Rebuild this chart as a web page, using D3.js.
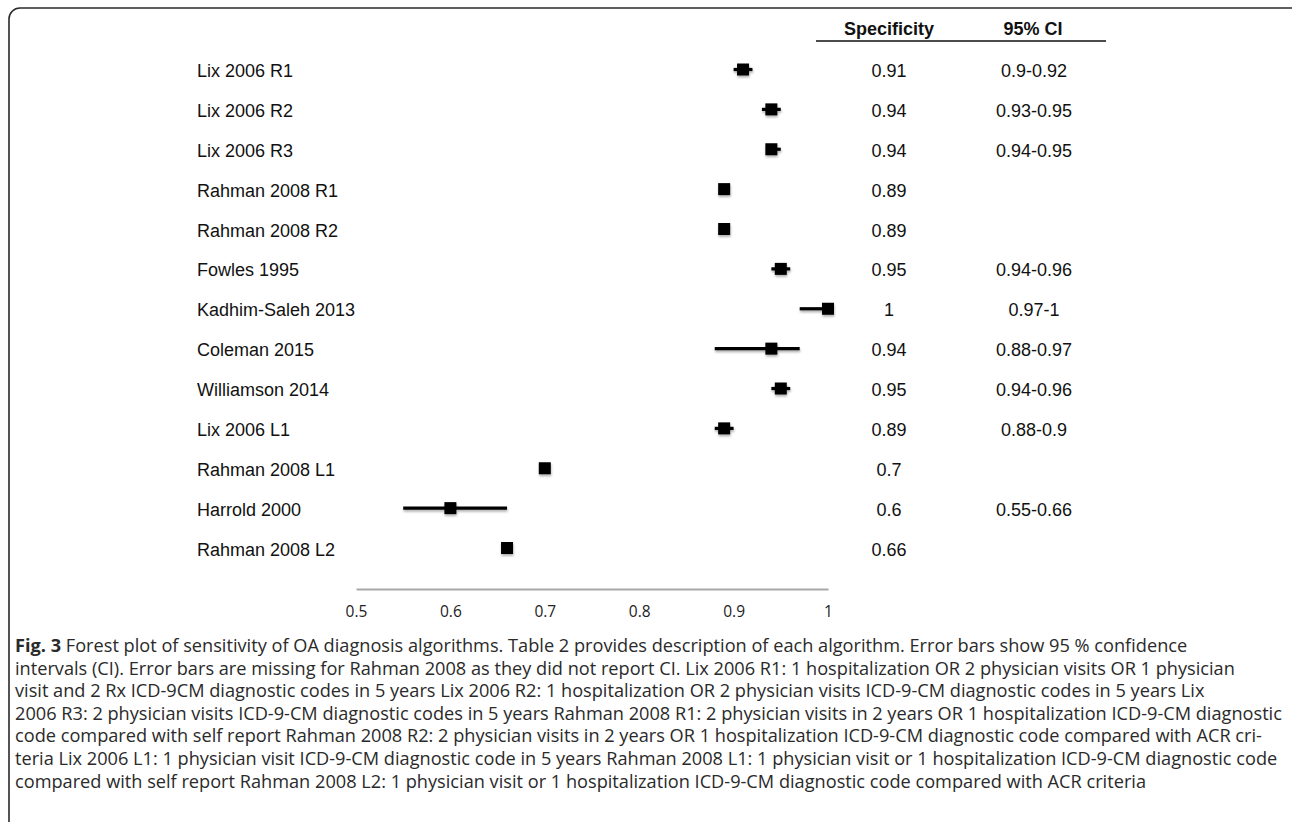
<!DOCTYPE html>
<html>
<head>
<meta charset="utf-8">
<script src="https://cdn.jsdelivr.net/npm/d3@7"></script>
<style>
  html, body { margin: 0; padding: 0; background: #fff; }
  svg { display: block; }
</style>
</head>
<body>
<svg id="chart" width="1292" height="822"></svg>
<script>
const studies = ["Lix 2006 R1","Lix 2006 R2","Lix 2006 R3","Rahman 2008 R1","Rahman 2008 R2","Fowles 1995","Kadhim-Saleh 2013","Coleman 2015","Williamson 2014","Lix 2006 L1","Rahman 2008 L1","Harrold 2000","Rahman 2008 L2"];
const specificity = [0.91,0.94,0.94,0.89,0.89,0.95,1,0.94,0.95,0.89,0.7,0.6,0.66];
const ciLow  = [0.9,0.93,0.94,null,null,0.94,0.97,0.88,0.94,0.88,null,0.55,null];
const ciHigh = [0.92,0.95,0.95,null,null,0.96,1,0.97,0.96,0.9,null,0.66,null];
const xTicks = [0.5,0.6,0.7,0.8,0.9,1];
const headers = ["Specificity","95% CI"];
const captionBold = "Fig. 3";
const captionLines = [
  " Forest plot of sensitivity of OA diagnosis algorithms. Table 2 provides description of each algorithm. Error bars show 95 % confidence",
  "intervals (CI). Error bars are missing for Rahman 2008 as they did not report CI. Lix 2006 R1: 1 hospitalization OR 2 physician visits OR 1 physician",
  "visit and 2 Rx ICD-9CM diagnostic codes in 5 years Lix 2006 R2: 1 hospitalization OR 2 physician visits ICD-9-CM diagnostic codes in 5 years Lix",
  "2006 R3: 2 physician visits ICD-9-CM diagnostic codes in 5 years Rahman 2008 R1: 2 physician visits in 2 years OR 1 hospitalization ICD-9-CM diagnostic",
  "code compared with self report Rahman 2008 R2: 2 physician visits in 2 years OR 1 hospitalization ICD-9-CM diagnostic code compared with ACR cri-",
  "teria Lix 2006 L1: 1 physician visit ICD-9-CM diagnostic code in 5 years Rahman 2008 L1: 1 physician visit or 1 hospitalization ICD-9-CM diagnostic code",
  "compared with self report Rahman 2008 L2: 1 physician visit or 1 hospitalization ICD-9-CM diagnostic code compared with ACR criteria"
];

const svg = d3.select("#chart");

// frame
svg.append("rect")
  .attr("x", 9).attr("y", 8).attr("width", 1300).attr("height", 830)
  .attr("rx", 11).attr("ry", 11)
  .attr("fill", "none").attr("stroke", "#2a2a2a").attr("stroke-width", 1.6);

const defs = svg.append("defs");
const f = defs.append("filter").attr("id", "shadow").attr("x", "-50%").attr("y", "-50%").attr("width", "200%").attr("height", "200%");
f.append("feDropShadow").attr("dx", 0.5).attr("dy", 2).attr("stdDeviation", 1.2)
  .attr("flood-color", "#000").attr("flood-opacity", 0.3);

const x = d3.scaleLinear().domain([0.5, 1]).range([356, 828]);
const y = d3.scalePoint().domain(studies).range([69.5, 548]);

const font = "'Liberation Sans', Arial, sans-serif";
const fsz = 18;

// row labels
svg.append("g").selectAll("text").data(studies).join("text")
  .attr("x", 197).attr("y", d => y(d))
  .attr("dy", "0.42em")
  .attr("font-family", font).attr("font-size", fsz).attr("fill", "#111")
  .text(d => d);

// CI lines
const rows = studies.map((s, i) => ({s, v: specificity[i], lo: ciLow[i], hi: ciHigh[i]}));
const g = svg.append("g").attr("filter", "url(#shadow)");
g.selectAll("line").data(rows.filter(r => r.lo != null)).join("line")
  .attr("x1", r => x(r.lo)).attr("x2", r => x(r.hi))
  .attr("y1", r => y(r.s)).attr("y2", r => y(r.s))
  .attr("stroke", "#000").attr("stroke-width", 3.2);
const ms = 12;
g.selectAll("rect").data(rows).join("rect")
  .attr("x", r => x(r.v) - ms/2).attr("y", r => y(r.s) - ms/2)
  .attr("width", ms).attr("height", ms)
  .attr("fill", "#000");

// value columns
svg.append("g").selectAll("text").data(rows).join("text")
  .attr("x", 889).attr("y", r => y(r.s)).attr("dy", "0.42em")
  .attr("text-anchor", "middle")
  .attr("font-family", font).attr("font-size", fsz).attr("fill", "#111")
  .text(r => String(r.v));
svg.append("g").selectAll("text").data(rows.filter(r => r.lo != null)).join("text")
  .attr("x", 1034).attr("y", r => y(r.s)).attr("dy", "0.42em")
  .attr("text-anchor", "middle")
  .attr("font-family", font).attr("font-size", fsz).attr("fill", "#111")
  .text(r => `${r.lo}-${r.hi}`);

// headers
svg.append("g").selectAll("text").data(headers).join("text")
  .attr("x", (d, i) => [889, 1033][i]).attr("y", 35)
  .attr("text-anchor", "middle")
  .attr("font-family", font).attr("font-size", fsz).attr("font-weight", "bold").attr("fill", "#111")
  .text(d => d);
svg.append("line").attr("x1", 816).attr("x2", 1106).attr("y1", 41).attr("y2", 41)
  .attr("stroke", "#111").attr("stroke-width", 1.6);

// axis
const axis = d3.axisBottom(x).tickValues(xTicks).tickSize(0).tickPadding(17).tickFormat(d => String(d));
const ax = svg.append("g").attr("transform", "translate(0,589)").call(axis);
ax.select(".domain").attr("stroke", "#a8a8a8").attr("stroke-width", 2);
ax.selectAll("text").attr("font-family", "'Open Sans', 'Liberation Sans', sans-serif").attr("font-size", 15.5).attr("fill", "#222");

// caption
const cap = svg.append("g");
const fs0 = 17;
const t0 = cap.append("text").attr("x", 15).attr("y", 652)
  .attr("font-family", "'Open Sans', sans-serif").attr("font-size", fs0).attr("fill", "#2a2a2a");
t0.append("tspan").attr("font-weight", "bold").text(captionBold);
t0.append("tspan").text(captionLines[0]);
const rest = cap.selectAll("text.cl").data(captionLines.slice(1)).join("text").attr("class", "cl")
  .attr("x", 15).attr("y", (d, i) => 652 + (i + 1) * 22.6)
  .attr("font-family", "'Open Sans', sans-serif").attr("font-size", fs0).attr("fill", "#2a2a2a")
  .text(d => d);
let maxW = t0.node().getComputedTextLength();
rest.each(function() { maxW = Math.max(maxW, this.getComputedTextLength()); });
const fs = fs0 * (1283 - 15) / maxW;
t0.attr("font-size", fs);
rest.attr("font-size", fs);
</script>
</body>
</html>
